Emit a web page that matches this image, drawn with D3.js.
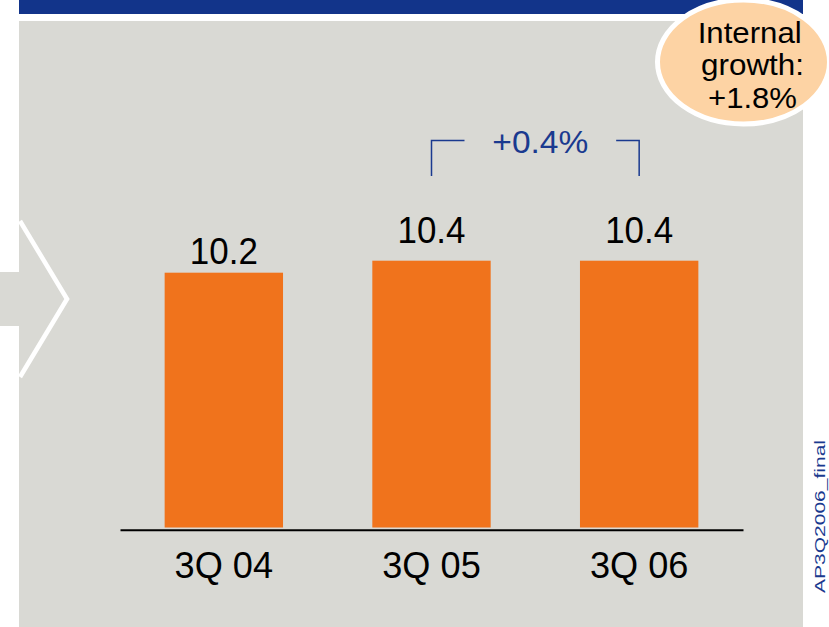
<!DOCTYPE html>
<html>
<head>
<meta charset="utf-8">
<script src="https://cdn.jsdelivr.net/npm/d3@7"></script>
<style>
  html, body { margin: 0; padding: 0; background: #ffffff; }
  svg { display: block; }
  text { font-family: "Liberation Sans", Arial, sans-serif; }
</style>
</head>
<body>
<svg id="chart" width="829" height="627"></svg>
<script>
// ---- data ----
const categories = ["3Q 04", "3Q 05", "3Q 06"];
const values = [10.2, 10.4, 10.4];
const valueLabels = ["10.2", "10.4", "10.4"];
const changeLabel = "+0.4%";
const bubbleLines = ["Internal", "growth:", "+1.8%"];
const footerLabel = "AP3Q2006_final";

// ---- colours ----
const C = {
  panel: "#d9d9d4",
  banner: "#12348a",
  bar: "#f0731c",
  blue: "#1a3a8f",
  bubble: "#fdd3a4"
};

const svg = d3.select("#chart");

// background panel + banner
svg.append("rect").attr("x", 19).attr("y", 0).attr("width", 784).attr("height", 14).attr("fill", C.banner);
svg.append("rect").attr("x", 19).attr("y", 21).attr("width", 784).attr("height", 606).attr("fill", C.panel);

// left arrow (continuation from previous panel)
svg.append("rect").attr("x", 0).attr("y", 272).attr("width", 20).attr("height", 54).attr("fill", C.panel);
svg.append("path")
  .attr("d", "M20,221 L67,299 L20,377")
  .attr("fill", "none").attr("stroke", "#ffffff").attr("stroke-width", 4.6)
  .attr("stroke-linejoin", "miter");

// scales
const x = d3.scaleBand().domain(categories).range([120, 743]).paddingInner(0.43).paddingOuter(0.215);
const y = d3.scaleLinear().domain([5.95, 10.4]).range([527.5, 260.7]);
const labelY = d3.scaleLinear().domain([10.2, 10.4]).range([264, 243.3]);
const baseY = y.range()[0];

// bars
svg.append("g").selectAll("rect").data(values).join("rect")
  .attr("x", (d, i) => x(categories[i]))
  .attr("y", d => y(d))
  .attr("width", x.bandwidth())
  .attr("height", d => baseY - y(d))
  .attr("fill", C.bar);

// value labels
svg.append("g").selectAll("text").data(values).join("text")
  .attr("x", (d, i) => x(categories[i]) + x.bandwidth() / 2)
  .attr("y", d => labelY(d))
  .attr("text-anchor", "middle")
  .attr("font-size", 37)
  .attr("textLength", 68)
  .attr("lengthAdjust", "spacingAndGlyphs")
  .attr("fill", "#000")
  .text((d, i) => valueLabels[i]);

// x axis
const axis = svg.append("g")
  .attr("transform", "translate(0,529.8)")
  .call(d3.axisBottom(x).tickSize(0).tickSizeOuter(0).tickPadding(0));
axis.select(".domain").attr("stroke", "#000").attr("stroke-width", 1.9);
axis.selectAll(".tick text")
  .attr("y", 48.2).attr("dy", null)
  .attr("font-size", 36)
  .attr("font-family", "Liberation Sans, Arial, sans-serif")
  .attr("fill", "#000")
  .attr("textLength", 98.5)
  .attr("lengthAdjust", "spacingAndGlyphs");

// change bracket between 3Q 05 and 3Q 06
const xa = x(categories[1]) + x.bandwidth() / 2;
const xb = x(categories[2]) + x.bandwidth() / 2;
const brY = 140.5, brBottom = 176;
const br = svg.append("g").attr("fill", "none").attr("stroke", C.blue).attr("stroke-width", 1.5);
br.append("path").attr("d", `M${xa},${brBottom} V${brY} H${xa + 33}`);
br.append("path").attr("d", `M${xb - 23},${brY} H${xb} V${brBottom}`);
svg.append("text")
  .attr("x", (xa + xb) / 2 + 5).attr("y", 152.7)
  .attr("text-anchor", "middle")
  .attr("font-size", 31)
  .attr("textLength", 96).attr("lengthAdjust", "spacingAndGlyphs")
  .attr("fill", C.blue)
  .text(changeLabel);

// bubble
svg.append("ellipse")
  .attr("cx", 743.5).attr("cy", 62).attr("rx", 86).attr("ry", 62)
  .attr("fill", C.bubble).attr("stroke", "#ffffff").attr("stroke-width", 5);
const bubbleY = [43.3, 75, 108];
const bubbleW = [104, 103, 89];
const bubbleX = [749.7, 752.5, 752.5];
svg.append("g").selectAll("text").data(bubbleLines).join("text")
  .attr("x", (d, i) => bubbleX[i])
  .attr("y", (d, i) => bubbleY[i])
  .attr("text-anchor", "middle")
  .attr("font-size", 30)
  .attr("textLength", (d, i) => bubbleW[i])
  .attr("lengthAdjust", "spacingAndGlyphs")
  .attr("fill", "#000")
  .text(d => d);

// vertical footer label
svg.append("text")
  .attr("transform", "translate(825,593) rotate(-90)")
  .attr("x", 0).attr("y", 0)
  .attr("font-size", 15.5)
  .attr("textLength", 153).attr("lengthAdjust", "spacingAndGlyphs")
  .attr("fill", C.blue)
  .text(footerLabel);
</script>
</body>
</html>
